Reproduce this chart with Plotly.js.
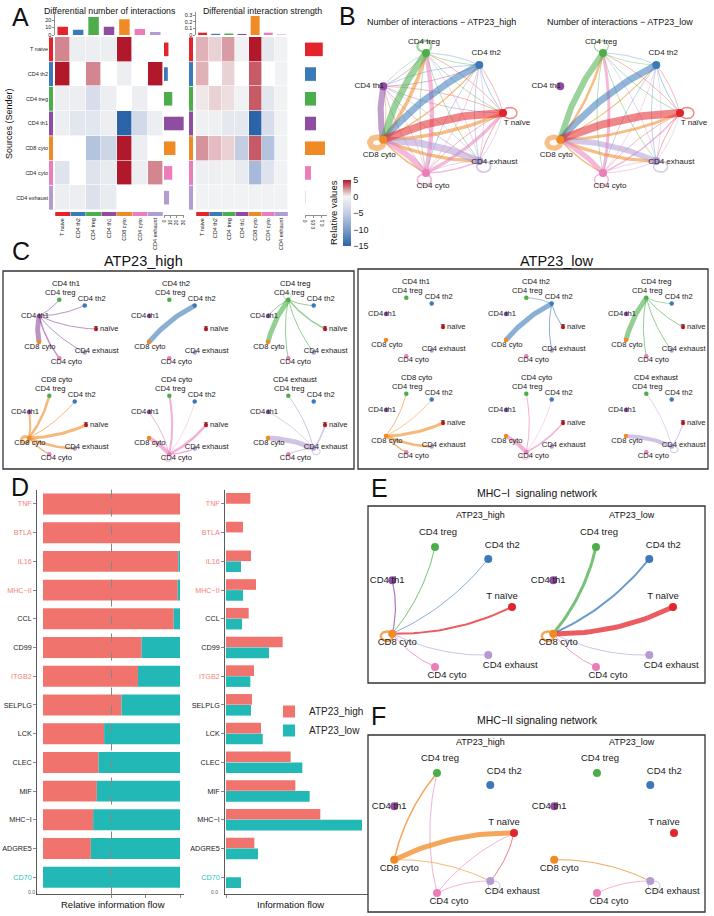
<!DOCTYPE html>
<html><head><meta charset="utf-8">
<script src="https://cdn.plot.ly/plotly-3.0.1.min.js"></script>
<style>html,body{margin:0;padding:0;background:#fff;}#chart{width:714px;height:916px;}</style>
</head><body><div id="chart"></div>
<script>
// ================= DATA =================
const cellTypes = ['T naive','CD4 th2','CD4 treg','CD4 th1','CD8 cyto','CD4 cyto','CD4 exhaust'];
const nodeNames = ['T naïve','CD4 th2','CD4 treg','CD4 th1','CD8 cyto','CD4 cyto','CD4 exhaust'];

// A: differential number of interactions (rows = senders, cols = receivers)
const diffCount = [
  [2.5, -0.8, -0.8, -0.8, 5, null, null],
  [5, null, 2.5, null, -0.8, null, 5],
  [-0.8, -0.8, -3, -0.8, null, -0.8, null],
  [-0.8, -1.8, -1.8, -0.8, -15, -3.5, -0.8],
  [null, null, -6, -4, 5, -0.8, null],
  [-2.2, null, -2.2, -1.2, 5, -0.8, 2.5],
  [-0.8, -0.8, -2.5, -1.2, null, null, null]
];
const countColSum = [11, 7, 24, 11, 21, 8, 4];
const countRowSum = [7, 6, 13, 31, 18, 13, 8];

// A: differential interaction strength
const diffStrength = [
  [1.5, 0.8, 2, -0.3, 5, -1.5, -0.3],
  [1.5, null, 0.8, null, 3.5, null, -0.3],
  [0.3, 0.8, 0.5, -0.3, 3.5, -1.8, -0.3],
  [-0.5, -0.5, -1.5, -1.5, -15, -3, -0.3],
  [2.2, 1.3, 0.8, -5, 3.5, -6, -0.3],
  [-0.6, -0.6, -0.4, -1.2, -7, -2.2, -0.3],
  [-0.3, -0.3, -0.3, -0.3, -0.3, -0.3, -0.3]
];
const strengthColSum = [0.035, 0.018, 0.022, 0.016, 0.285, 0.035, 0.007];
const strengthRowSum = [0.105, 0.065, 0.065, 0.065, 0.118, 0.035, 0.002];

// B: number of interactions (rows = senders)
const countHigh = [
  [4, 1, 1, 1, 22, 1, 2],
  [2, 0, 1, 1, 19, 1, 1],
  [2, 2, 6, 1, 19, 2, 2],
  [1, 2, 2, 0, 17, 1, 1],
  [10, 4, 10, 2, 16, 5, 9],
  [9, 2, 12, 2, 16, 5, 4],
  [2, 2, 2, 2, 20, 2, 5]
];
const countLow = [
  [4, 1, 1, 0, 22, 1, 2],
  [2, 0, 1, 0, 19, 1, 1],
  [2, 1, 3, 0, 17, 2, 2],
  [0, 0, 0, 0, 0, 0, 0],
  [8, 3, 7, 0, 14, 4, 9],
  [4, 1, 8, 0, 14, 4, 2],
  [1, 1, 2, 0, 16, 2, 4]
];

// C: per-sender signalling strength
const cSenders = [3, 1, 2, 4, 5, 6];
const cHigh = [
  [1, 1, 1, 0, 5, 1.5, 1],
  [0, 0, 0, 0, 5, 0, 0],
  [1.5, 1, 0.6, 1, 5, 1, 1],
  [3, 1, 2.5, 2, 3, 1.5, 2.5],
  [2.5, 0.5, 2, 1, 4, 1, 1.5],
  [1.5, 0, 1, 0.8, 5, 1, 1]
];
const cLow = [
  [0, 0, 0, 0, 0, 0, 0],
  [1, 0, 0.8, 0, 5, 0, 1],
  [1, 0.8, 0, 0, 5, 1, 1],
  [3, 0.8, 1, 0, 0, 1.5, 2.5],
  [1.5, 0.5, 1, 0, 4, 1, 0],
  [1, 0, 0.7, 0, 4, 0, 1]
];

// E / F: [source, target, weight]
const mhc1High = [[0,4,2],[1,4,0.8],[2,4,1],[3,4,1.2],[5,4,1],[6,4,0.8],[4,4,2.5]];
const mhc1Low  = [[0,4,5],[1,4,2],[2,4,3],[5,4,1],[6,4,0.8],[4,4,2.5]];
const mhc2High = [[4,2,1.5],[4,0,5],[4,6,0.8],[5,2,0.8],[5,0,0.8],[5,6,0.8],[0,6,0.8],[6,6,0.8]];
const mhc2Low  = [[4,6,1],[5,6,0.8],[6,6,0.8]];

// D: information flow
const pathways = ['TNF','BTLA','IL16','MHC−II','CCL','CD99','ITGB2','SELPLG','LCK','CLEC','MIF','MHC−I','ADGRE5','CD70'];
const relFlowHigh = [1.0, 1.0, 0.988, 0.983, 0.954, 0.72, 0.693, 0.573, 0.446, 0.405, 0.393, 0.366, 0.349, 0.0];
const flowHigh = [0.73, 0.51, 0.75, 0.90, 0.68, 1.70, 0.84, 0.78, 1.05, 1.94, 2.08, 2.83, 0.85, 0.0];
const flowLow  = [0.0, 0.0, 0.45, 0.51, 0.48, 1.29, 0.73, 0.75, 1.10, 2.29, 2.51, 4.08, 0.96, 0.45];
const enrichedIn = ['high','high','high','high','','','high','','','','','','','low'];

// ================= STYLE / LAYOUT CONSTANTS =================
const W = 714, H = 916;
const FONT = 'Liberation Sans, Arial, Helvetica, sans-serif';
const cellColors = ['#E3252B','#3A7AB8','#4BAE4A','#8E4DA0','#F08A24','#EB7DBA','#B39BD3'];
const RED = '#F0736E', TEAL = '#22B8B6';
const labelColor = {high:'#F4817A', low:'#2BBFC1', '':'#222222'};

const traces = [];
function hexA(hex, a){ const n = parseInt(hex.slice(1),16); return 'rgba('+((n>>16)&255)+','+((n>>8)&255)+','+(n&255)+','+a+')'; }
function nodePos(g){ return cellTypes.map((_, i) => { const a = 2*Math.PI*i/7; return [g.cx + g.rx*Math.cos(a), g.cy - g.ry*Math.sin(a)]; }); }
function addEdge(P, g, s, t, w, st){
  const color = hexA(cellColors[s], st.alpha);
  const width = Math.max(st.minW, w*st.scale);
  const xs = [], ys = [];
  if (s === t){
    const p = P[s]; let ox = p[0]-g.cx, oy = p[1]-g.cy; const L = Math.hypot(ox, oy); ox /= L; oy /= L;
    const r = st.loopR, cx = p[0]+ox*r, cy = p[1]+oy*r;
    for (let k=0;k<=40;k++){ const a = 2*Math.PI*k/40; xs.push(cx + r*Math.cos(a)); ys.push(cy + r*0.8*Math.sin(a)); }
  } else {
    const p = P[s], q = P[t], dx = q[0]-p[0], dy = q[1]-p[1];
    const c = [(p[0]+q[0])/2 - st.bend*dy, (p[1]+q[1])/2 + st.bend*dx];
    for (let k=0;k<=24;k++){ const u=k/24; xs.push((1-u)*(1-u)*p[0]+2*(1-u)*u*c[0]+u*u*q[0]); ys.push((1-u)*(1-u)*p[1]+2*(1-u)*u*c[1]+u*u*q[1]); }
  }
  traces.push({type:'scatter', mode:'lines', x:xs, y:ys, xaxis:'x', yaxis:'y', line:{color, width}, hoverinfo:'skip', showlegend:false});
}
function matrixEdges(m, senders){ const out=[]; m.forEach((row,k)=>row.forEach((w,t)=>{ if (w>0) out.push([senders?senders[k]:k, t, w]); })); return out; }
function drawNet(g, edges, st){
  const P = nodePos(g);
  edges.slice().sort((a,b)=>a[2]-b[2]).forEach(e => addEdge(P, g, e[0], e[1], e[2], st));
  traces.push({type:'scatter', mode:'markers', x:P.map(p=>p[0]), y:P.map(p=>p[1]), xaxis:'x', yaxis:'y',
    marker:{size:st.nodeSize, color:cellColors, line:{width:0}}, hoverinfo:'skip', showlegend:false});
  traces.push({type:'scatter', mode:'text', x:P.map((p,i)=>p[0]+st.off[i][0]), y:P.map((p,i)=>p[1]+st.off[i][1]), xaxis:'x', yaxis:'y',
    text:nodeNames, textposition:'middle center', textfont:{size:st.font, color:'#1a1a1a', family:FONT}, hoverinfo:'skip', showlegend:false});
}

const offB = [[14,10],[7,-12],[-2,-11],[-14,0],[-4,15],[7,13],[15,1]];
const offC = [[10,0],[7,-6],[1,-6.5],[-4,0],[1,5],[7,4],[12,-1]];
const offE = [[-10,-10],[14,-13],[3,-14],[-5,0],[5,9],[12,9],[22,11]];
const styleB = {scale:0.36, minW:0.6, alpha:0.55, bend:0.1, loopR:7, nodeSize:8, font:8, off:offB};
const styleC = {scale:1, minW:0.5, alpha:0.6, bend:0.1, loopR:4, nodeSize:4.5, font:7.6, off:offC};
const styleE = {scale:1, minW:0.6, alpha:0.75, bend:-0.12, loopR:6, nodeSize:8, font:9.5, off:offE};

// B
drawNet({cx:440, cy:113, rx:63, ry:61.5}, matrixEdges(countHigh), styleB);
drawNet({cx:617, cy:113, rx:63, ry:61.5}, matrixEdges(countLow), styleB);
// C
const cHighCenters = [[66,329],[176,329],[295,329],[56,425],[176,425],[295,425]];
const cLowCenters = [[413,327],[533,327],[653,327],[413,423],[533,423],[653,423]];
const annotations = [];
function ann(text, x, y, size, extra){ annotations.push(Object.assign({text, x, y, xref:'x', yref:'y', showarrow:false, xanchor:'center', yanchor:'middle', font:{size, family:FONT, color:'#111'}}, extra||{})); }
cSenders.forEach((s,k) => {
  const a = cHighCenters[k], b = cLowCenters[k];
  drawNet({cx:a[0], cy:a[1], rx:30, ry:30}, matrixEdges([cHigh[k]], [s]), styleC);
  drawNet({cx:b[0], cy:b[1], rx:30, ry:30}, matrixEdges([cLow[k]], [s]), styleC);
  ann(nodeNames[s], a[0], a[1]-45.5, 7.6);
  ann(nodeNames[s], b[0]+3, b[1]-45.5, 7.6);
});
// E, F
drawNet({cx:449, cy:607, rx:63, ry:61.5}, mhc1High, styleE);
drawNet({cx:610, cy:607, rx:63, ry:61.5}, mhc1Low, styleE);
drawNet({cx:451, cy:833, rx:63, ry:61.5}, mhc2High, styleE);
drawNet({cx:611, cy:833, rx:63, ry:61.5}, mhc2Low, styleE);

// ---------- A heatmaps ----------
function heatBlock(n, z, colSum, rowSum){
  const a = n, b = n+1, c = n+2, d = n+3, e = n+4;
  traces.push({type:'heatmap', x:cellTypes, y:cellTypes, z, coloraxis:'coloraxis', xgap:0.6, ygap:0.6, hoverongaps:false, xaxis:'x'+a, yaxis:'y'+a, hoverinfo:'skip'});
  traces.push({type:'bar', x:cellTypes, y:colSum, marker:{color:cellColors}, width:0.68, xaxis:'x'+b, yaxis:'y'+b, showlegend:false, hoverinfo:'skip'});
  traces.push({type:'bar', orientation:'h', y:cellTypes, x:rowSum, marker:{color:cellColors}, width:0.55, xaxis:'x'+c, yaxis:'y'+c, showlegend:false, hoverinfo:'skip'});
  traces.push({type:'bar', orientation:'h', y:cellTypes, x:cellTypes.map(()=>1), marker:{color:cellColors}, width:0.97, xaxis:'x'+d, yaxis:'y'+d, showlegend:false, hoverinfo:'skip'});
  traces.push({type:'bar', x:cellTypes, y:cellTypes.map(()=>1), marker:{color:cellColors}, width:0.97, xaxis:'x'+e, yaxis:'y'+e, showlegend:false, hoverinfo:'skip'});
}
heatBlock(2, diffCount, countColSum, countRowSum);
heatBlock(7, diffStrength, strengthColSum, strengthRowSum);

// ---------- D ----------
traces.push({type:'bar', orientation:'h', y:pathways, x:relFlowHigh, marker:{color:RED}, width:0.73, xaxis:'x12', yaxis:'y12', showlegend:false, hoverinfo:'skip'});
traces.push({type:'bar', orientation:'h', y:pathways, x:relFlowHigh.map(v=>1-v), base:relFlowHigh, marker:{color:TEAL}, width:0.73, xaxis:'x12', yaxis:'y12', showlegend:false, hoverinfo:'skip'});
traces.push({type:'bar', orientation:'h', y:pathways, x:flowHigh, name:'ATP23_high', marker:{color:RED}, width:0.37, offset:-0.38, xaxis:'x13', yaxis:'y13', showlegend:true, hoverinfo:'skip'});
traces.push({type:'bar', orientation:'h', y:pathways, x:flowLow, name:'ATP23_low', marker:{color:TEAL}, width:0.37, offset:0.0, xaxis:'x13', yaxis:'y13', showlegend:true, hoverinfo:'skip'});

// ---------- axes ----------
const dx = (a,b) => [a/W, b/W];
const dy = (top,bottom) => [1-bottom/H, 1-top/H];
const base = {showgrid:false, zeroline:false, showline:false, ticks:'', showticklabels:false, fixedrange:true};
const tf = s => ({size:s, family:FONT, color:'#222'});
function A(o){ return Object.assign({}, base, o); }
const layout = {
  width:W, height:H, margin:{l:0,r:0,t:0,b:0,autoexpand:false},
  paper_bgcolor:'#fff', plot_bgcolor:'rgba(0,0,0,0)', barmode:'overlay', font:{family:FONT},
  showlegend:true,
  legend:{x:269/W, y:1-697/H, xanchor:'left', yanchor:'top', font:{size:10, family:FONT, color:'#222'}, bgcolor:'rgba(0,0,0,0)', itemwidth:30, tracegroupgap:2},
  xaxis:A({domain:[0,1], range:[0,W], visible:false}),
  yaxis:A({domain:[0,1], range:[H,0], visible:false}),
  coloraxis:{cmin:-15, cmax:5,
    colorscale:[[0,'#2B64A8'],[0.25,'#7D9DC9'],[0.5,'#C3CEE3'],[0.75,'#F4F4F4'],[1,'#B2182B']],
    colorbar:{x:343/W, xanchor:'left', y:1-213/H, yanchor:'middle', len:66, lenmode:'pixels', thickness:8, thicknessmode:'pixels',
      ypad:0, xpad:0, outlinewidth:0, tickvals:[5,0,-5,-10,-15], ticktext:['5','0','−5','−10','−15'], ticks:'', tickfont:tf(9)}},
  annotations, shapes:[]
};
function heatAxes(n, xl, xr, stripL, barR0, barR1, topRange, topTicks, topText, rightRange, rightTicks, rightText, rowLabels){
  const yDom = dy(37,210);
  layout['xaxis'+n] = A({domain:dx(xl,xr), anchor:'y'+n, type:'category'});
  layout['yaxis'+n] = A({domain:yDom, anchor:'x'+n, type:'category', autorange:'reversed'});
  layout['xaxis'+(n+1)] = A({domain:dx(xl,xr), anchor:'y'+(n+1), type:'category'});
  layout['yaxis'+(n+1)] = A({domain:dy(12,35), anchor:'x'+(n+1), range:topRange, tickvals:topTicks, ticktext:topText, showticklabels:true, ticks:'outside', ticklen:2, tickwidth:0.6, showline:true, linewidth:0.6, linecolor:'#444', tickfont:tf(5.5)});
  layout['xaxis'+(n+2)] = A({domain:dx(barR0,barR1), anchor:'free', position:1-215/H, range:rightRange, tickvals:rightTicks, ticktext:rightText, tickangle:-90, showticklabels:true, ticks:'outside', ticklen:2, tickwidth:0.6, showline:true, linewidth:0.6, linecolor:'#444', tickfont:tf(5)});
  layout['yaxis'+(n+2)] = A({domain:yDom, anchor:'x'+(n+2), type:'category', autorange:'reversed'});
  layout['xaxis'+(n+3)] = A({domain:dx(stripL,stripL+4), anchor:'y'+(n+3), range:[0,1]});
  layout['yaxis'+(n+3)] = A({domain:yDom, anchor:'x'+(n+3), type:'category', autorange:'reversed', showticklabels:rowLabels, tickfont:tf(5.5)});
  layout['xaxis'+(n+4)] = A({domain:dx(xl,xr), anchor:'y'+(n+4), type:'category', showticklabels:true, tickangle:-90, tickfont:tf(5.5)});
  layout['yaxis'+(n+4)] = A({domain:dy(212,216), anchor:'x'+(n+4), range:[0,1]});
}
heatAxes(2, 55, 163, 49, 164, 184, [0,30.7], [0,10,20], ['0','10','20'], [0,31.5], [0,10,20,30], ['0','10','20','30'], true);
heatAxes(7, 196, 288, 189, 305, 327, [0,0.345], [0,0.1,0.2,0.3], ['0','0.1','0.2','0.3'], [0,0.13], [0,0.05,0.1], ['0','0.05','0.1'], false);

const tickText = pathways.map((p,i)=>'<span style="color:'+labelColor[enrichedIn[i]]+'">'+p+'</span>');
const dY = dy(489.6, 894.5);
layout.xaxis12 = A({domain:dx(37,184), anchor:'y12', range:[-0.0438,1.029], tickvals:[0.5,0.75,1], ticks:'outside', ticklen:3, tickwidth:0.7, tickcolor:'#555', showline:true, linewidth:0.8, linecolor:'#333'});
layout.yaxis12 = A({domain:dY, anchor:'x12', type:'category', range:[13.6,-0.5], tickvals:pathways, ticktext:tickText, showticklabels:true, ticks:'outside', ticklen:3, tickwidth:0.7, tickcolor:'#555', showline:true, linewidth:0.8, linecolor:'#333', tickfont:tf(7.2)});
layout.xaxis13 = A({domain:dx(225,368), anchor:'y13', range:[-0.03,4.26], tickvals:[0], ticks:'outside', ticklen:3, tickwidth:0.7, tickcolor:'#555', showline:true, linewidth:0.8, linecolor:'#333'});
layout.yaxis13 = A({domain:dY, anchor:'x13', type:'category', range:[13.6,-0.5], tickvals:pathways, ticktext:tickText, showticklabels:true, ticks:'outside', ticklen:3, tickwidth:0.7, tickcolor:'#555', showline:true, linewidth:0.8, linecolor:'#333', tickfont:tf(7.2)});

// dashed 0.5 line in D
layout.shapes.push({type:'line', xref:'x12', yref:'y12 domain', x0:0.5, x1:0.5, y0:0, y1:1, line:{color:'#888', width:1, dash:'dash'}, layer:'above'});
// boxes
[[3,271,354,469],[358,269,708,469],[368,506,705,683],[368,735,705,912]].forEach(b=>{
  layout.shapes.push({type:'rect', xref:'x', yref:'y', x0:b[0], y0:b[1], x1:b[2], y1:b[3], line:{color:'#333', width:1.3}, fillcolor:'rgba(0,0,0,0)'});
});

// ---------- text ----------
[['A',20,17],['B',347,16],['C',21,251],['D',20,487],['E',379,488],['F',378,716]].forEach(l=>ann(l[0], l[1], l[2], 25));
ann('Differential number of interactions', 110, 11, 8.8);
ann('Differential interaction strength', 262, 11, 8.8);
ann('Sources (Sender)', 9, 124, 9, {textangle:-90});
ann('Relative values', 333, 213, 9.5, {textangle:-90});
ann('Number of interactions − ATP23_high', 441, 22, 9);
ann('Number of interactions − ATP23_low', 620, 22, 9);
ann('ATP23_high', 143, 261, 14.5);
ann('ATP23_low', 557, 261, 14.5);
ann('MHC−I  signaling network', 537, 493, 10.5);
ann('ATP23_high', 480, 515, 9);
ann('ATP23_low', 632, 515, 9);
ann('MHC−II signaling network', 537, 720, 10.5);
ann('ATP23_high', 480, 742, 9);
ann('ATP23_low', 632, 742, 9);
ann('Relative information flow', 113, 904, 9.5);
ann('Information flow', 290, 904, 9.5);
ann('0.0', 31, 892, 5, {font:{size:5, family:FONT, color:'#555'}});
ann('0.0', 214, 892, 5, {font:{size:5, family:FONT, color:'#555'}});

Plotly.newPlot('chart', traces, layout, {staticPlot:true, displayModeBar:false});
</script></body></html>
